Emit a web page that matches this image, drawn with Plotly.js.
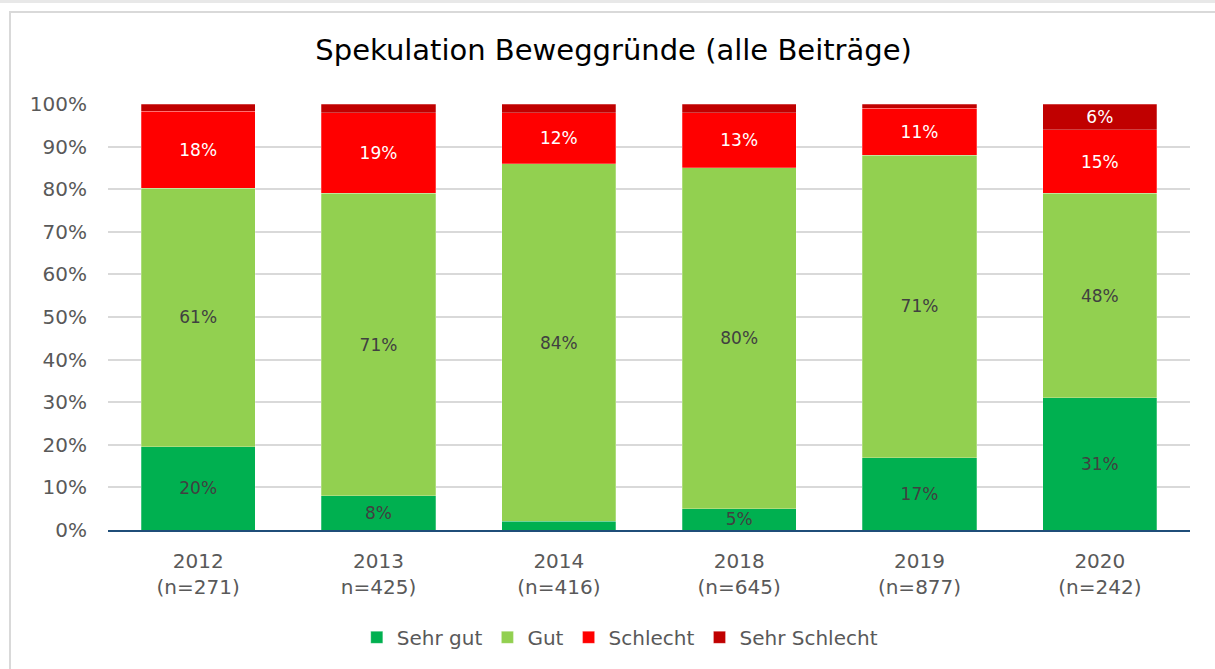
<!DOCTYPE html>
<html>
<head>
<meta charset="utf-8">
<script src="https://cdn.plot.ly/plotly-3.0.1.min.js"></script>
<style>
  html, body { margin: 0; padding: 0; background: #fff; }
  #wrap { position: relative; width: 1215px; height: 669px; overflow: hidden; }
  #topline { position: absolute; left: 0; top: 0; width: 1215px; height: 3px; background: #e8e8e8; }
  #frame { position: absolute; left: 9px; top: 11px; width: 1230px; height: 700px; border: 2px solid #d9d9d9; box-sizing: border-box; }
  #chart { position: absolute; left: 0; top: 0; width: 1215px; height: 669px; }
</style>
</head>
<body>
<div id="wrap">
  <div id="topline"></div>
  <div id="frame"></div>
  <div id="chart"></div>
</div>
<script>
const categories = ["2012<br>(n=271)", "2013<br>n=425)", "2014<br>(n=416)", "2018<br>(n=645)", "2019<br>(n=877)", "2020<br>(n=242)"];
const sehrGut = [19.6, 8, 2, 5, 17, 31];
const gut = [60.6, 71, 84, 80, 71, 48];
const schlecht = [18.1, 19, 12, 13, 11, 15];
const sehrSchlecht = [1.7, 2, 2, 2, 1, 6];
const seriesNames = ["Sehr gut", "Gut", "Schlecht", "Sehr Schlecht"];
const yTicks = [0, 10, 20, 30, 40, 50, 60, 70, 80, 90, 100];

const colors = ["#00b050", "#92d050", "#ff0000", "#c00000"];
const labelColors = ["#404040", "#404040", "#ffffff", "#ffffff"];
const FONT = "DejaVu Sans, sans-serif";

function labels(vals) {
  return vals.map(v => v >= 4 ? Math.round(v) + "%" : "");
}

const allSeries = [sehrGut, gut, schlecht, sehrSchlecht];
const traces = allSeries.map((vals, i) => ({
  type: "bar",
  name: seriesNames[i],
  x: categories,
  y: vals,
  text: labels(vals),
  textposition: "inside",
  insidetextanchor: "middle",
  constraintext: "none",
  textfont: { family: FONT, size: 17, color: labelColors[i] },
  marker: { color: colors[i], line: { width: 0.5, color: "rgba(255,255,255,0.5)" } },
  hoverinfo: "skip"
}));

const layout = {
  width: 1215,
  height: 669,
  paper_bgcolor: "rgba(0,0,0,0)",
  plot_bgcolor: "rgba(0,0,0,0)",
  barmode: "stack",
  bargap: 0.367,
  margin: { l: 108, r: 25, t: 104, b: 137 },
  font: { family: FONT, color: "#595959" },
  title: {
    text: "Spekulation Beweggründe (alle Beiträge)",
    font: { family: FONT, size: 29, color: "#000000" },
    xref: "container", x: 0.505, xanchor: "center",
    yref: "container", y: 0.925, yanchor: "middle"
  },
  xaxis: {
    type: "category",
    tickfont: { family: FONT, size: 20, color: "#595959" },
    showline: true, linecolor: "#1f4e79", linewidth: 2,
    ticks: "", showgrid: false, zeroline: false,
    ticklabelstandoff: 12
  },
  yaxis: {
    range: [0, 100],
    tickvals: yTicks,
    ticktext: yTicks.map(v => v + "%"),
    tickfont: { family: FONT, size: 20, color: "#595959" },
    showgrid: true, gridcolor: "#d9d9d9", gridwidth: 2,
    zeroline: false, showline: false, ticks: "",
    ticklabelstandoff: 20
  },
  showlegend: true,
  legend: {
    orientation: "h",
    x: 0.473, xanchor: "center",
    y: -0.252, yanchor: "middle",
    font: { family: FONT, size: 20, color: "#595959" },
    traceorder: "normal",
    itemwidth: 30
  }
};

Plotly.newPlot("chart", traces, layout, { displayModeBar: false, staticPlot: true });
</script>
</body>
</html>
